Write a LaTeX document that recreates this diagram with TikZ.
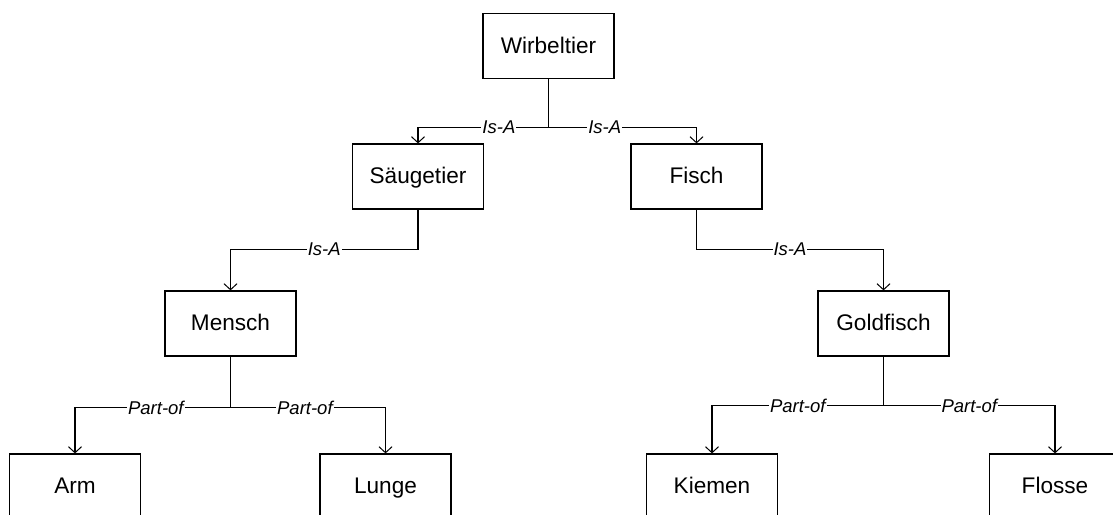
\documentclass[tikz,border=0pt]{standalone}
\usepackage{fontspec}
\setmainfont{Liberation Sans}
\usetikzlibrary{arrows.meta,positioning}

\tikzset{
  box/.style={draw, line width=1.2pt, minimum width=131pt, minimum height=65pt,
    inner sep=0pt, text height=19pt, text depth=5pt,
    font=\fontsize{22.6}{27}\selectfont},
  link/.style={line width=1.2pt, -{Straight Barb[length=6pt,width=13pt,line width=1pt]}},
  rel/.style={fill=white, inner sep=1pt, font=\fontsize{18.5}{22}\selectfont\itshape}
}

\begin{document}
\begin{tikzpicture}[x=1pt, y=-1pt]
                \useasboundingbox (0,0) rectangle (1113,514);
                \clip (0,0) rectangle (1113,514);

                % taxonomy
                \node[box] (wirbel) at (548.5,46) {Wirbeltier};
                \node[box] (saeuge) at (418,176.5) {Säugetier};
                \node[box] (fisch) at (696.5,176.5) {Fisch};
                \node[box] (mensch) at (230.5,323.5) {Mensch};
                \node[box] (gold) at (883.5,323.5) {Goldfisch};

                % parts
                \node[box] (arm) at (75,486.5) {Arm};
                \node[box] (lunge) at (385.5,486.5) {Lunge};
                \node[box] (kiemen) at (712,486.5) {Kiemen};
                \node[box] (flosse) at (1055,486.5) {Flosse};

                \draw[link] (wirbel.south) -- ++(0,48) -| node[rel, pos=.19] {Is-A} (saeuge.north);
                \draw[link] (wirbel.south) -- ++(0,48) -| node[rel, pos=.19] {Is-A} (fisch.north);
                \draw[link] (saeuge.south) -- ++(0,40) -| node[rel, pos=.25] {Is-A} (mensch.north);
                \draw[link] (fisch.south) -- ++(0,40) -| node[rel, pos=.25] {Is-A} (gold.north);

                \draw[link] (mensch.south) -- ++(0,51) -| node[rel, pos=.24] {Part-of} (arm.north);
                \draw[link] (mensch.south) -- ++(0,51) -| node[rel, pos=.24] {Part-of} (lunge.north);
                \draw[link] (gold.south) -- ++(0,49) -| node[rel, pos=.25] {Part-of} (kiemen.north);
                \draw[link] (gold.south) -- ++(0,49) -| node[rel, pos=.25] {Part-of} (flosse.north);
            \end{tikzpicture}
\end{document}
